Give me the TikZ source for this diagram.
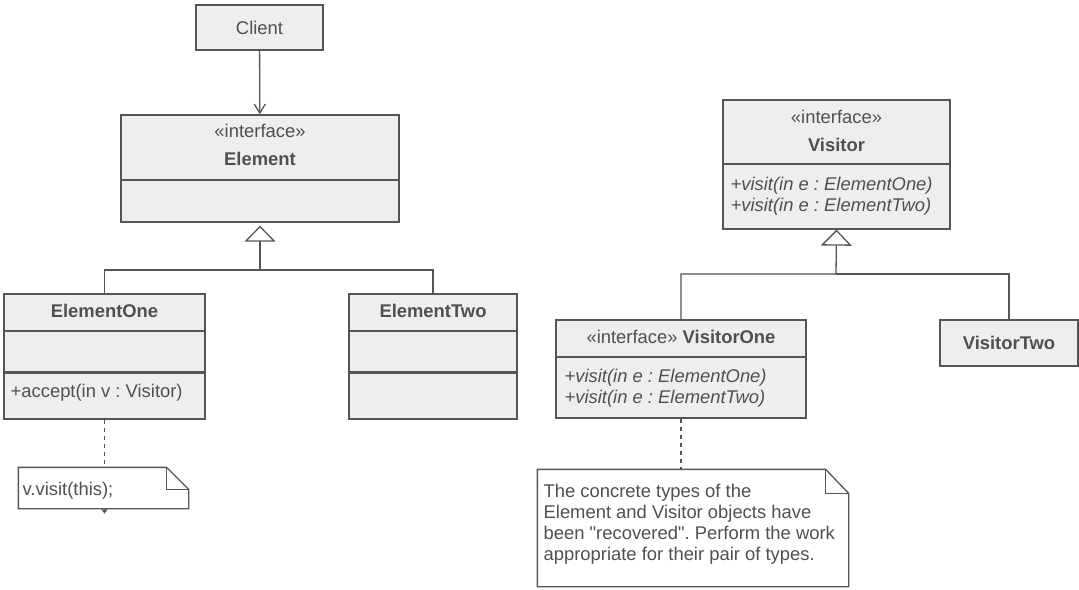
\documentclass[tikz,border=0pt]{standalone}
\usepackage{fontspec}
\setmainfont{Liberation Sans}
\usetikzlibrary{arrows.meta, calc, backgrounds}
\definecolor{cline}{HTML}{555555}
\definecolor{ctext}{HTML}{505050}
\definecolor{cfill}{HTML}{EEEEEE}
\frenchspacing
\tikzset{
  every picture/.style={x=0.5pt, y=-0.5pt, line width=0.65pt, font=\fontsize{9.2}{10.5}\selectfont},
  cls/.style={draw=cline, fill=cfill, inner sep=0pt, text=ctext},
  lbl/.style={text=ctext, inner sep=0pt, align=center},
  ops/.style={text=ctext, inner sep=0pt, align=left, anchor=west},
  sep/.style={draw=cline, line width=0.6pt},
  thicksep/.style={draw=cline, line width=1.1pt},
  arrow/.style={draw=cline, -{Straight Barb[length=4.5pt, width=5.5pt]}},
  inherit/.style={draw=cline, -{Triangle[open, length=8pt, width=15.5pt, fill=white]}},
  notelink/.style={draw=cline, line width=0.55pt, dash pattern=on 2pt off 2pt},
  notebox/.style={fill=white, inner sep=0pt},
  fold/.style={draw=cline, line width=0.65pt},
}

\begin{document}
\begin{tikzpicture}
  \useasboundingbox (0,0) rectangle (1079,589);
  % element side
  \node[cls, minimum width=63.5pt, minimum height=22.5pt] (client) at (259.5,27.5) {Client};
  \node[cls, minimum width=139pt, minimum height=53.5pt] (elem) at (260,168.5) {};
  \node[lbl] (elemst) at (260,131) {«interface»};
  \node[lbl, font=\fontsize{9.2}{10.5}\selectfont\bfseries] (elemname) at (260,159) {Element};
  \draw[sep] (elem.west |- 0,180) -- (elem.east |- 0,180);

  \node[cls, minimum width=100.5pt, minimum height=62.5pt] (e1) at (104.5,356.5) {};
  \node[lbl, font=\fontsize{9.2}{10.5}\selectfont\bfseries] (e1name) at (104.5,311) {ElementOne};
  \draw[sep] (e1.west |- 0,331) -- (e1.east |- 0,331);
  \draw[thicksep] (e1.west |- 0,372.5) -- (e1.east |- 0,372.5);
  \node[ops] (e1ops) at (10,393) {+accept(in v : Visitor)};

  \node[cls, minimum width=84pt, minimum height=62.5pt] (e2) at (433,356.5) {};
  \node[lbl, font=\fontsize{9.2}{10.5}\selectfont\bfseries] (e2name) at (433,311) {ElementTwo};
  \draw[sep] (e2.west |- 0,331) -- (e2.east |- 0,331);
  \draw[thicksep] (e2.west |- 0,372.5) -- (e2.east |- 0,372.5);

  \coordinate (ejoin) at (260,270);
  \draw[arrow] (client) -- (elem);
  \draw[inherit, shorten >=1.5pt] (e1.north) |- (ejoin) -- (elem.south);
  \draw[cline] (e2.north) |- (ejoin);

  % note on ElementOne
  \node[notebox, minimum width=84.5pt, minimum height=20pt] (n1) at (103.5,488) {};
  \begin{scope}[on background layer]
    \draw[notelink, -{Stealth[length=2.5pt, width=3.5pt]}] (e1.south) -- ([yshift=-2.5pt]e1.south |- n1.south);
  \end{scope}
  \draw[fold] (n1.north west) -- ([xshift=-11pt]n1.north east) -- ([yshift=-11pt]n1.north east)
    -- (n1.south east) -- (n1.south west) -- cycle;
  \draw[fold] ([xshift=-11pt]n1.north east) |- ([yshift=-11pt]n1.north east);
  \node[ops] (n1text) at (22,491) {v.visit(this);};

  % visitor side
  \node[cls, minimum width=113.5pt, minimum height=64.5pt] (vis) at (836.5,164.5) {};
  \node[lbl] (visst) at (836.5,117) {«interface»};
  \node[lbl, font=\fontsize{9.2}{10.5}\selectfont\bfseries] (visname) at (836.5,145) {Visitor};
  \draw[thicksep] (vis.west |- 0,164) -- (vis.east |- 0,164);
  \node[ops, font=\fontsize{9.2}{10.5}\selectfont\itshape] (visops) at (730,196.5)
    {+visit(in e : ElementOne)\\+visit(in e : ElementTwo)};

  \node[cls, minimum width=125pt, minimum height=49pt] (v1) at (681,369) {};
  \node[lbl] (v1name) at (681,337) {«interface» \textbf{VisitorOne}};
  \draw[sep] (v1.west |- 0,357) -- (v1.east |- 0,357);
  \node[ops, font=\fontsize{9.2}{10.5}\selectfont\itshape] (v1ops) at (564,388.5)
    {+visit(in e : ElementOne)\\+visit(in e : ElementTwo)};

  \node[cls, minimum width=69pt, minimum height=23pt, font=\fontsize{9.2}{10.5}\selectfont\bfseries] (v2) at (1009,343) {VisitorTwo};

  \coordinate (vjoin) at (836,274);
  \draw[inherit] (v1.north) |- (vjoin) -- (vis.south);
  \draw[cline] (v2.north) |- (vjoin);

  % note on VisitorOne
  \node[notebox, minimum width=155pt, minimum height=58pt] (n2) at (693,528) {};
  \draw[notelink] (v1.south) -- (v1.south |- n2.north);
  \draw[fold] (n2.north west) -- ([xshift=-11.5pt]n2.north east) -- ([yshift=-12pt]n2.north east)
    -- (n2.south east) -- (n2.south west) -- cycle;
  \draw[fold] ([xshift=-11.5pt]n2.north east) |- ([yshift=-12pt]n2.north east);
  \node[ops] (n2text) at (543,524.5) {The concrete types of the\\Element and Visitor objects have\\been \textquotedbl recovered\textquotedbl. Perform the work\\appropriate for their pair of types.};
\end{tikzpicture}
\end{document}
